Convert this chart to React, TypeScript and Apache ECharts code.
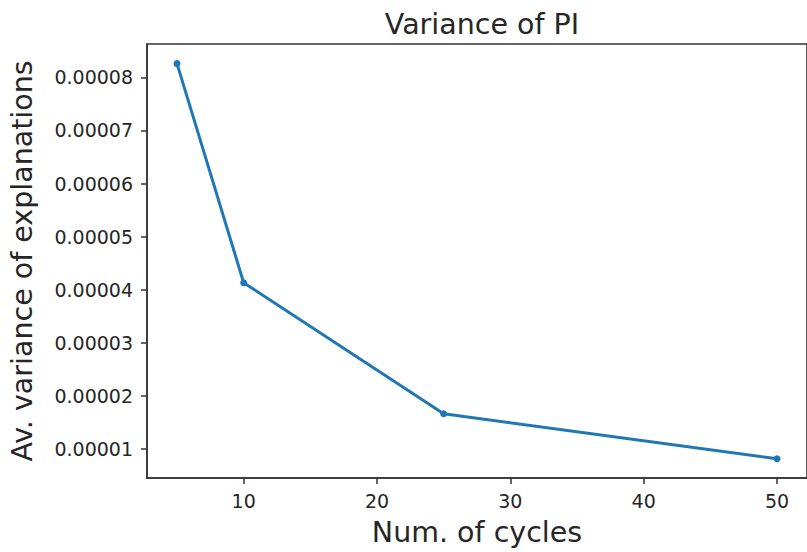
import React, { useEffect, useRef } from "react";
import * as echarts from "echarts";

const cycles = [5, 10, 25, 50];
const variance = [0.0000826, 0.0000413, 0.0000166, 0.0000081];
const xTicks = [10, 20, 30, 40, 50];
const yTicks = [0.00001, 0.00002, 0.00003, 0.00004, 0.00005, 0.00006, 0.00007, 0.00008];

const FONT = "DejaVu Sans";
const AXIS = "#333333";

export default function App() {
  const ref = useRef<HTMLDivElement>(null);
  useEffect(() => {
    if (!ref.current) return;
    const chart = echarts.init(ref.current, undefined, { renderer: "svg" });
    chart.setOption({
      animation: false,
      backgroundColor: "#ffffff",
      title: {
        text: "Variance of PI",
        left: 477,
        textAlign: "center",
        top: 5,
        textStyle: { fontFamily: FONT, fontSize: 28.5, fontWeight: "normal", color: "#262626" },
      },
      grid: {
        left: 147,
        top: 44,
        right: -11,
        bottom: 72,
        show: true,
        borderColor: AXIS,
        borderWidth: 1.5,
        containLabel: false,
      },
      xAxis: {
        type: "value",
        min: 2.75,
        max: 52.25,
        name: "Num. of cycles",
        nameLocation: "middle",
        nameGap: 40,
        nameTextStyle: { fontFamily: FONT, fontSize: 28.5, color: "#262626" },
        axisLine: { show: true, lineStyle: { color: AXIS, width: 1.5 } },
        axisTick: { show: true, customValues: xTicks, length: 6, lineStyle: { color: AXIS, width: 1.5 } },
        axisLabel: {
          customValues: xTicks,
          margin: 13,
          fontFamily: FONT,
          fontSize: 19,
          color: "#262626",
        },
        splitLine: { show: false },
      },
      yAxis: {
        type: "value",
        min: 0.00000448,
        max: 0.0000863,
        name: "Av. variance of explanations",
        nameLocation: "middle",
        nameRotate: 90,
        nameGap: 110,
        nameTextStyle: { fontFamily: FONT, fontSize: 28.5, color: "#262626" },
        axisLine: { show: true, lineStyle: { color: AXIS, width: 1.5 } },
        axisTick: { show: true, customValues: yTicks, length: 6, lineStyle: { color: AXIS, width: 1.5 } },
        axisLabel: {
          customValues: yTicks,
          margin: 14,
          fontFamily: FONT,
          fontSize: 19,
          color: "#262626",
          formatter: (v: number) => v.toFixed(5),
        },
        splitLine: { show: false },
      },
      series: [
        {
          type: "line",
          data: cycles.map((c, i) => [c, variance[i]]),
          lineStyle: { color: "#1f77b4", width: 3 },
          itemStyle: { color: "#1f77b4" },
          symbol: "circle",
          symbolSize: 7,
          showSymbol: true,
        },
      ],
    });
    return () => chart.dispose();
  }, []);
  return <div ref={ref} style={{ width: 807, height: 552, position: "absolute", left: 0, top: 0 }} />;
}
